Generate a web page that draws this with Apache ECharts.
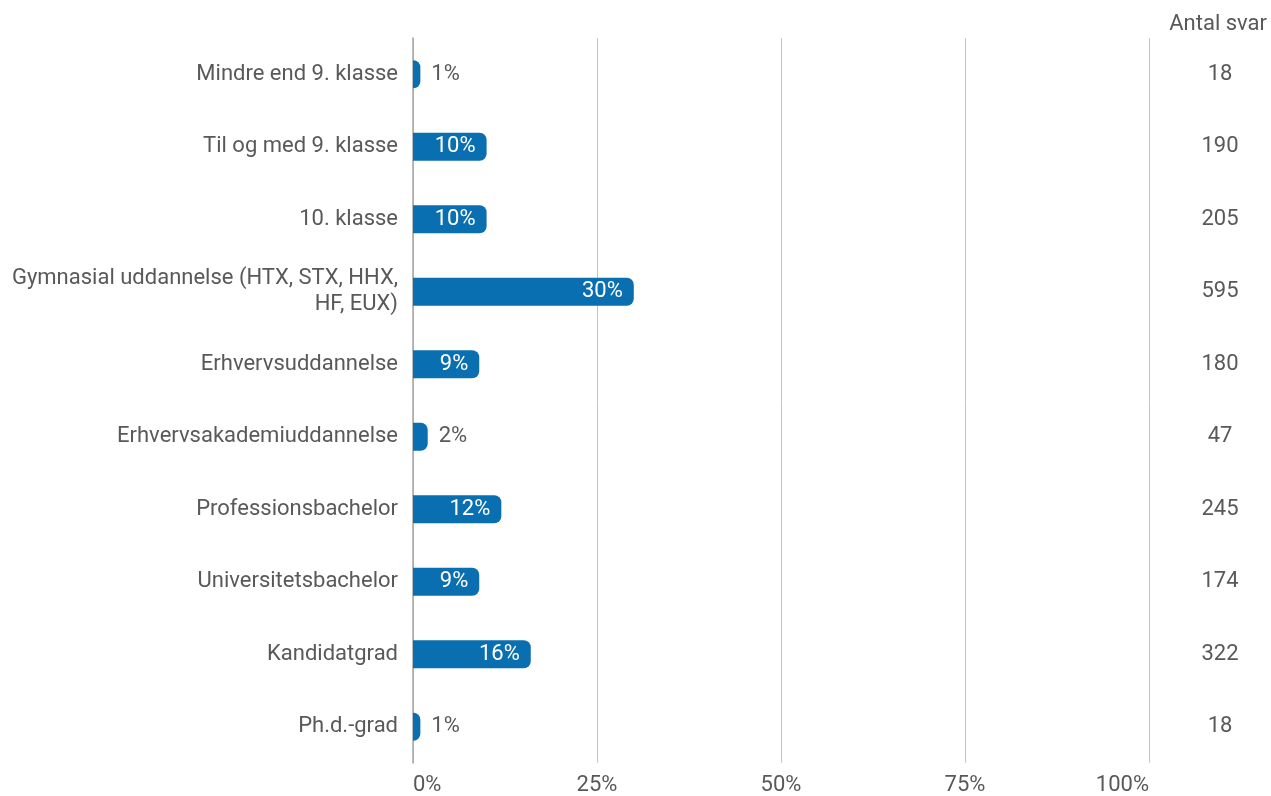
<!DOCTYPE html>
<html>
<head>
<meta charset="utf-8">
<script src="https://cdn.jsdelivr.net/npm/echarts@6/dist/echarts.min.js"></script>
<style>html,body{margin:0;padding:0;background:#fff}#c{width:1271px;height:796px}</style>
</head>
<body>
<div id="c"></div>
<script>
const categories = [
  'Mindre end 9. klasse',
  'Til og med 9. klasse',
  '10. klasse',
  'Gymnasial uddannelse (HTX, STX, HHX,\nHF, EUX)',
  'Erhvervsuddannelse',
  'Erhvervsakademiuddannelse',
  'Professionsbachelor',
  'Universitetsbachelor',
  'Kandidatgrad',
  'Ph.d.-grad'
];
const shares = [1, 10, 10, 30, 9, 2, 12, 9, 16, 1];
const counts = ['18', '190', '205', '595', '180', '47', '245', '174', '322', '18'];
const xTicks = [0, 25, 50, 75, 100];

const textColor = '#595959';
const barColor = '#0a6fb0';
const font = 'Roboto';
const fs = 22;

const chart = echarts.init(document.getElementById('c'), null, {renderer: 'canvas'});
chart.setOption({
  animation: false,
  textStyle: {fontFamily: font},
  title: {
    text: 'Antal svar', right: 4, top: 13, padding: 0,
    textStyle: {fontFamily: font, fontSize: fs, fontWeight: 'normal', color: textColor}
  },
  grid: {left: 413, right: 122, top: 38, bottom: 30, containLabel: false},
  xAxis: {
    type: 'value', min: xTicks[0], max: xTicks[xTicks.length - 1], interval: 25,
    axisLine: {show: false}, axisTick: {show: false},
    splitLine: {lineStyle: {color: '#c4c4c4', width: 1}},
    axisLabel: {
      formatter: '{value}%', color: textColor, fontSize: fs, fontFamily: font, margin: 11,
      alignMinLabel: 'left', alignMaxLabel: 'right'
    }
  },
  yAxis: [{
    type: 'category', data: categories, inverse: true,
    axisLine: {show: true, lineStyle: {color: '#a6a6a6', width: 1.5}},
    axisTick: {show: false},
    axisLabel: {color: textColor, fontSize: fs, fontFamily: font, margin: 15, align: 'right', lineHeight: 26}
  }, {
    type: 'category', data: counts, inverse: true, position: 'right',
    axisLine: {show: false}, axisTick: {show: false},
    axisLabel: {color: textColor, fontSize: fs, fontFamily: font, margin: 71, align: 'center'}
  }],
  series: [{
    type: 'bar', yAxisIndex: 0, barWidth: 28,
    itemStyle: {color: barColor, borderRadius: [0, 7, 7, 0]},
    data: shares.map(v => ({
      value: v,
      label: v >= 5
        ? {show: true, position: 'insideRight', color: '#ffffff', distance: 11}
        : {show: true, position: 'right', color: textColor, distance: 11}
    })),
    label: {
      fontSize: fs, fontFamily: font,
      formatter: p => Math.round(p.value) + '%'
    }
  }]
});
</script>
</body>
</html>
